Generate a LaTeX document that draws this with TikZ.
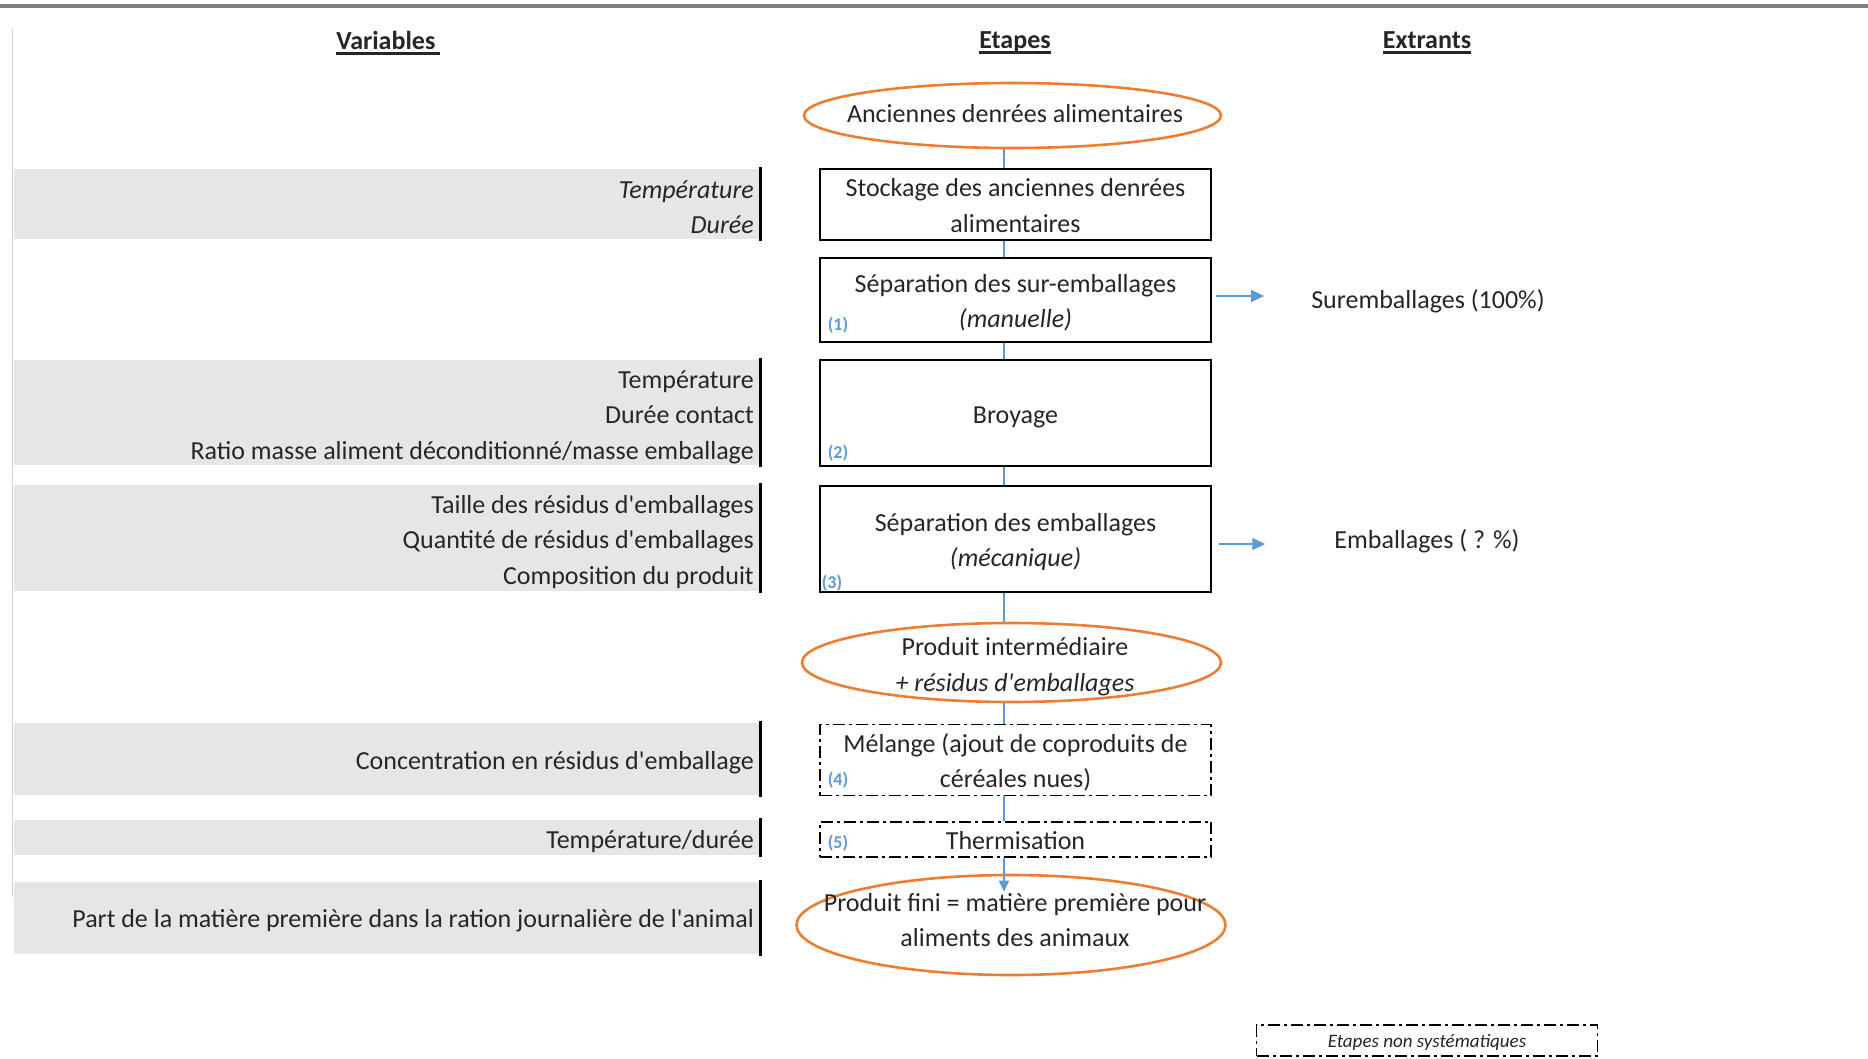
\documentclass[tikz,border=0pt]{standalone}
\usepackage{fontspec}
\setmainfont{Carlito}
\usetikzlibrary{shapes.geometric,arrows.meta,calc}
\definecolor{orng}{HTML}{ED7D31}
\definecolor{blu}{HTML}{5B9BD5}
\definecolor{bandc}{HTML}{E7E6E6}
\definecolor{txtc}{HTML}{262626}
\definecolor{topl}{HTML}{808080}
\newcommand\myul[1]{\setbox0=\hbox{#1}\rlap{\rule[-5pt]{\wd0}{2.6pt}}\box0}
\newcommand\lowr[1]{\raisebox{-3pt}[\height][\depth]{\begin{tabular}{@{}c@{}}#1\end{tabular}}}
\newcommand\q{\textquotesingle}
\begin{document}
\begin{tikzpicture}[x=1pt,y=-1pt,
  mainf/.style={font=\fontsize{26}{35.5}\selectfont},
  txt/.style={mainf, text=txtc, inner sep=0pt},
  stepbox/.style={draw=black, line width=2.4pt, rectangle, minimum width=391pt, inner sep=0pt, mainf, text=txtc},
  optbox/.style={stepbox, line width=1.8pt, dash pattern=on 12pt off 4pt on 3pt off 4pt},
  ell/.style={draw=orng, line width=2.6pt, ellipse, inner sep=0pt},
  bandbox/.style={fill=bandc, draw=none, rectangle, minimum width=746pt, inner sep=0pt},
  bar/.style={draw=black, line width=2.6pt},
  vartxt/.style={txt, anchor=east, align=right},
  num/.style={font=\fontsize{18}{18}\selectfont\bfseries, text=blu, inner sep=0pt},
  conn/.style={draw=blu, line width=1.3pt},
  arr/.style={conn, -{Triangle[length=13pt,width=12pt]}},
  head/.style={font=\fontsize{26}{30}\selectfont\bfseries, text=txtc, inner sep=0pt}
]
\useasboundingbox (0,0) rectangle (1868,1058);
\fill[white] (0,0) rectangle (1868,1058);
% frame lines
\draw[line width=3.2pt, topl] (0,6) -- (1868,6);
\draw[line width=1pt, gray!35] (12,29) -- (12,897);

% headers
\node[head] (hv) at (388,43) {\myul{Variables\,}};
\node[head] (he) at (1015,43) {\myul{Etapes}};
\node[head] (hx) at (1427,43) {\myul{Extrants}};

% variable bands
\node[bandbox, minimum height=70pt] (g1) at (387,204) {};
\node[bandbox, minimum height=105pt] (g2) at (387,412.5) {};
\node[bandbox, minimum height=106pt] (g3) at (387,538) {};
\node[bandbox, minimum height=72pt] (g4) at (387,759) {};
\node[bandbox, minimum height=35pt] (g5) at (387,837.5) {};
\node[bandbox, minimum height=72pt] (g6) at (387,918) {};
\foreach \g in {g1,g2,g3,g4,g5,g6}{
  \draw[bar, shorten <=-1.5pt, shorten >=-2pt] (\g.north east) -- (\g.south east);
}
\node[vartxt] (v1) at (754,207) {\textit{Température}\\\textit{Durée}};
\node[vartxt] (v2) at (754,417) {Température\\Durée contact\\Ratio masse aliment déconditionné/masse emballage};
\node[vartxt] (v3) at (754,542) {Taille des résidus d\q emballages\\Quantité de résidus d\q emballages\\Composition du produit};
\node[vartxt] (v4) at (754,762.5) {Concentration en résidus d\q emballage};
\node[vartxt] (v5) at (754,841.5) {Température/durée};
\node[vartxt] (v6) at (754,921) {Part de la matière première dans la ration journalière de l\q animal};

% steps
\node[ell, minimum width=417pt, minimum height=65pt] (e1) at (1012.5,115.5) {};
\node[txt] (e1t) at (1015,114) {Anciennes denrées alimentaires};

\node[stepbox, minimum height=70pt] (b1) at (1015.5,204.5) {\lowr{Stockage des anciennes denrées\\alimentaires}};
\node[stepbox, minimum height=84pt] (b2) at (1015.5,300) {\lowr{Séparation des sur-emballages\\\textit{(manuelle)}}};
\node[stepbox, minimum height=106pt] (b3) at (1015.5,413) {\lowr{Broyage}};
\node[stepbox, minimum height=106pt] (b4) at (1015.5,539) {\lowr{Séparation des emballages\\\textit{(mécanique)}}};

\node[ell, minimum width=419pt, minimum height=79pt] (e2) at (1011.5,662.5) {};
\node[txt, align=center] (e2t) at (1015,666.5) {Produit intermédiaire\\\textit{+ résidus d\q emballages}};

\node[optbox, minimum height=70pt] (b5) at (1015.5,760) {\lowr{Mélange (ajout de coproduits de\\céréales nues)}};
\node[optbox, minimum height=35pt] (b6) at (1015.5,839.5) {\lowr{Thermisation}};

\node[ell, minimum width=429pt, minimum height=100pt] (e3) at (1011,925) {};
\node[txt, align=center] (e3t) at (1015,920) {Produit fini = matière première pour\\aliments des animaux};

% step numbers
\node[num] (n1) at (838,325) {(1)};
\node[num] (n2) at (838,453) {(2)};
\node[num] (n3) at (832,583) {(3)};
\node[num] (n4) at (838,780) {(4)};
\node[num] (n5) at (838,843) {(5)};

% connectors
\coordinate (cx) at (1004,0);
\draw[conn] (cx |- e1.south) -- (cx |- b1.north);
\draw[conn] (cx |- b1.south) -- (cx |- b2.north);
\draw[conn] (cx |- b2.south) -- (cx |- b3.north);
\draw[conn] (cx |- b3.south) -- (cx |- b4.north);
\draw[conn] (cx |- b4.south) -- (cx |- e2.north);
\draw[conn] (cx |- e2.south) -- (cx |- b5.north);
\draw[conn] (cx |- b5.south) -- (cx |- b6.north);
\coordinate (e3in) at ($(cx |- e3.north)+(0,18)$);
\draw[conn, -{Triangle[length=11pt,width=10pt]}] (cx |- b6.south) -- (e3in);

% outputs
\node[txt] (s1) at (1428,301) {Suremballages (100\%)};
\node[txt] (s2) at (1427,541) {Emballages ( ? \%)};
\coordinate (a1) at ($(s1.west)+(-47,-5)$);
\coordinate (a2) at ($(s2.west)+(-69,3)$);
\draw[arr, shorten <=4pt] (b2.east |- a1) -- (a1);
\draw[arr, shorten <=7pt] (b4.east |- a2) -- (a2);

% legend
\node[draw=black, line width=1.5pt, dash pattern=on 12pt off 4pt on 3pt off 4pt, minimum width=341pt, minimum height=31pt, inner sep=0pt, font=\fontsize{19}{19}\selectfont\itshape, text=txtc] (leg) at (1427,1040.5) {\lowr{Etapes non systématiques}};
\end{tikzpicture}
\end{document}
